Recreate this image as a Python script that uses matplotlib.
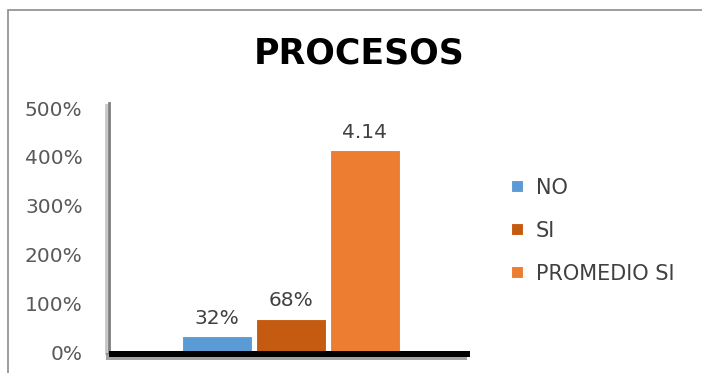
import matplotlib
matplotlib.use("Agg")
import matplotlib.pyplot as plt
from matplotlib.patches import Rectangle
import matplotlib.patheffects as pe

title = "PROCESOS"
series = ["NO", "SI", "PROMEDIO SI"]
values = [0.32, 0.68, 4.14]
value_labels = ["32%", "68%", "4.14"]
colors = ["#5B9BD5", "#C55A11", "#ED7D31"]
yticks = [0, 1, 2, 3, 4, 5]
ytick_labels = ["0%", "100%", "200%", "300%", "400%", "500%"]

W, H = 702, 373
fig = plt.figure(figsize=(W / 100, H / 100), dpi=100)
plt.rcParams['font.family'] = ['DejaVu Sans']

# outer chart border (extends beyond image at right/bottom)
fig.patches.append(Rectangle((8 / W, -0.1), 1.2, (H - 10) / H + 0.1, transform=fig.transFigure,
                             fill=False, edgecolor="#8c8c8c", linewidth=1.2))

ax = fig.add_axes([109 / W, 21 / H, 361 / W, 244 / H])
ax.set_facecolor("none")
x = [-1, 0, 1]
bars = ax.bar(x, values, width=0.95, color=colors, edgecolor="white", linewidth=0.8, zorder=3)
for xi, v, lab in zip(x, values, value_labels):
    ax.annotate(lab, (xi, v), xytext=(0, 6), textcoords="offset points", ha="center", va="bottom",
                fontsize=14.5, color="#404040")
ax.set_xlim(-2.46, 2.42)
ax.set_ylim(0, 5)
ax.set_yticks(yticks)
ax.set_yticklabels(ytick_labels, fontsize=14.5, color="#595959")
ax.tick_params(axis="y", length=0, pad=19)
ax.set_xticks([])
for s in ["top", "right", "bottom"]:
    ax.spines[s].set_visible(False)
ax.spines["left"].set_color("#7f7f7f")
ax.spines["left"].set_linewidth(2)
ax.spines["left"].set_bounds(0, 5.1)
ax.spines["left"].set_path_effects([pe.SimpleLineShadow(offset=(-2, -1), shadow_color="#a0a0a0", alpha=0.6),
                                    pe.Normal()])
# floor
floor = Rectangle((0, -0.022), 1.0, 0.028, transform=ax.transAxes, clip_on=False,
                  facecolor="black", edgecolor="none", zorder=4)
floor.set_path_effects([pe.SimplePatchShadow(offset=(-2, -2), shadow_rgbFace="#666666", alpha=0.6), pe.Normal()])
ax.add_patch(floor)

fig.text(359 / W, (H - 53) / H, title, fontsize=25, fontweight="bold", ha="center", va="center", color="black")

leg = fig.legend(bars, series, loc="upper left", bbox_to_anchor=(492 / W, (H - 159) / H),
                 frameon=False, fontsize=15, labelspacing=1.1, handlelength=0.6, handleheight=0.5,
                 handletextpad=0.6)
for t in leg.get_texts():
    t.set_color("#404040")

fig.savefig("out.png", dpi=100)
